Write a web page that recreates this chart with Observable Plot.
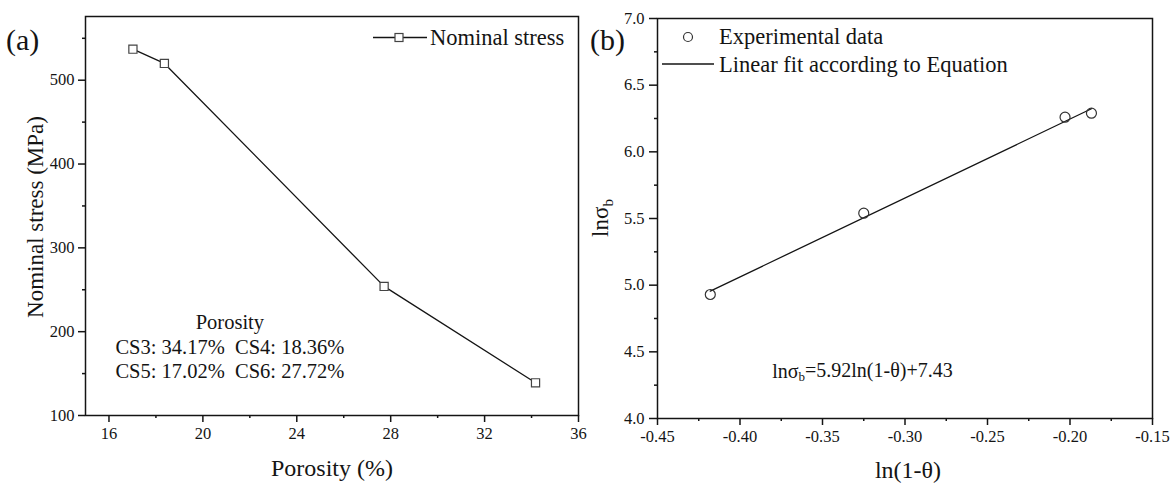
<!DOCTYPE html>
<html><head><meta charset="utf-8">
<script src="https://cdn.jsdelivr.net/npm/d3@7"></script>
<script src="https://cdn.jsdelivr.net/npm/@observablehq/plot@0.6"></script>
<style>
body{margin:0;background:#fff;}
#wrap{position:relative;width:1174px;height:485px;overflow:hidden;background:#fff;}
#wrap svg{position:absolute;top:0;font-family:'Liberation Serif','Times New Roman',serif !important;}
#wrap svg text{font-family:'Liberation Serif','Times New Roman',serif !important;}
</style></head><body><div id="wrap"></div>
<script>
// ---- Data (panel a) ----
const porosity = [17.02, 18.36, 27.72, 34.17];
const nominalStress = [537, 520, 254, 139];
const xTicksA = [16, 20, 24, 28, 32, 36];
const xMinorA = [18, 22, 26, 30, 34];
const yTicksA = [100, 200, 300, 400, 500];
const yMinorA = [150, 250, 350, 450, 550];
const porosityNote = ["Porosity", "CS3: 34.17%\u00a0\u00a0CS4: 18.36%", "CS5: 17.02%\u00a0\u00a0CS6: 27.72%"];

// ---- Data (panel b) ----
const lnOneMinusTheta = [-0.418, -0.325, -0.203, -0.187];
const lnSigmaB = [4.93, 5.54, 6.26, 6.29];
const fitSlope = 5.92, fitIntercept = 7.43;
const fitRange = [-0.418, -0.187];
const xTicksB = [-0.45, -0.40, -0.35, -0.30, -0.25, -0.20, -0.15];
const xMinorB = [-0.425, -0.375, -0.325, -0.275, -0.225, -0.175];
const yTicksB = [4.0, 4.5, 5.0, 5.5, 6.0, 6.5, 7.0];
const yMinorB = [4.25, 4.75, 5.25, 5.75, 6.25, 6.75];

const ink = "#141414";
const serif = "'Liberation Serif', 'Times New Roman', serif";
const tickFont = 16.5;
const wrap = document.getElementById("wrap");

// ---------- Panel (a) ----------
const dataA = porosity.map((p, i) => ({p, s: nominalStress[i]}));
const plotA = Plot.plot({
  width: 590, height: 485,
  marginLeft: 85, marginRight: 12, marginTop: 16, marginBottom: 70,
  style: {fontFamily: serif, color: ink, background: "white", overflow: "visible"},
  x: {domain: [15, 36]},
  y: {domain: [100, 576]},
  marks: [
    Plot.frame({stroke: ink, strokeWidth: 1.5}),
    Plot.axisX({ticks: xTicksA, tickSize: 7, tickPadding: 5, tickFormat: d => String(d), label: null, strokeWidth: 1.5, fontSize: tickFont}),
    Plot.axisX({ticks: xMinorA, tickSize: 3, tickFormat: () => "", label: null, strokeWidth: 1.5}),
    Plot.axisY({ticks: yTicksA, tickSize: 7, tickPadding: 4, tickFormat: d => String(d), label: null, strokeWidth: 1.5, fontSize: tickFont}),
    Plot.axisY({ticks: yMinorA, tickSize: 3, tickFormat: () => "", label: null, strokeWidth: 1.5}),
    Plot.line(dataA, {x: "p", y: "s", stroke: ink, strokeWidth: 1.3}),
    Plot.dot(dataA, {x: "p", y: "s", symbol: "square", r: 4.6, fill: "white", stroke: "#444", strokeWidth: 1.2}),
    Plot.text([porosityNote.join("\n")], {x: 21.15, y: 183, text: d => d, fontSize: 20.5, lineHeight: 1.2, textAnchor: "middle", lineAnchor: "middle", fill: ink})
  ]
});
plotA.style.left = "0px";
wrap.appendChild(plotA);

{
  const svg = d3.select(plotA);
  const g = svg.append("g").attr("text-anchor", "start").attr("fill", ink);
  g.append("text").attr("x", 6).attr("y", 50).style("font-size", "30px").text("(a)");
  g.append("text").attr("x", 332).attr("y", 476).attr("text-anchor", "middle").style("font-size", "24px").text("Porosity (%)");
  g.append("text").attr("transform", "translate(43,217) rotate(-90)").attr("text-anchor", "middle").style("font-size", "23px").text("Nominal stress (MPa)");
  // legend
  g.append("line").attr("x1", 373).attr("x2", 427).attr("y1", 37.5).attr("y2", 37.5).attr("stroke", ink).attr("stroke-width", 1.3);
  g.append("rect").attr("x", 395).attr("y", 33.5).attr("width", 8).attr("height", 8).attr("fill", "white").attr("stroke", "#444").attr("stroke-width", 1.2);
  g.append("text").attr("x", 430).attr("y", 45).style("font-size", "22.5px").text("Nominal stress");
}

// ---------- Panel (b) ----------
const dataB = lnOneMinusTheta.map((x, i) => ({x, y: lnSigmaB[i]}));
const fitData = fitRange.map(x => ({x, y: fitSlope * x + fitIntercept}));
const plotB = Plot.plot({
  width: 584, height: 485,
  marginLeft: 67, marginRight: 22, marginTop: 18, marginBottom: 67,
  style: {fontFamily: serif, color: ink, background: "white", overflow: "visible"},
  x: {domain: [-0.45, -0.15]},
  y: {domain: [4.0, 7.0]},
  marks: [
    Plot.frame({stroke: ink, strokeWidth: 1.5}),
    Plot.axisX({ticks: xTicksB, tickSize: 7, tickPadding: 5, tickFormat: d => d.toFixed(2), label: null, strokeWidth: 1.5, fontSize: tickFont}),
    Plot.axisX({ticks: xMinorB, tickSize: 3, tickFormat: () => "", label: null, strokeWidth: 1.5}),
    Plot.axisY({ticks: yTicksB, tickSize: 8, tickPadding: 5, tickFormat: d => d.toFixed(1), label: null, strokeWidth: 1.5, fontSize: tickFont}),
    Plot.axisY({ticks: yMinorB, tickSize: 3, tickFormat: () => "", label: null, strokeWidth: 1.5}),
    Plot.line(fitData, {x: "x", y: "y", stroke: ink, strokeWidth: 1.3}),
    Plot.dot(dataB, {x: "x", y: "y", symbol: "circle", r: 5, fill: "none", stroke: "#333", strokeWidth: 1.2})
  ]
});
plotB.style.left = "590px";
wrap.appendChild(plotB);

{
  const svg = d3.select(plotB);
  const sx = plotB.scale("x"), sy = plotB.scale("y");
  const g = svg.append("g").attr("text-anchor", "start").attr("fill", ink);
  g.append("text").attr("x", 0).attr("y", 50).style("font-size", "30px").text("(b)");
  g.append("text").attr("x", 318).attr("y", 478).attr("text-anchor", "middle").style("font-size", "24px").text("ln(1-\u03b8)");
  const yl = g.append("text").attr("transform", "translate(18,218) rotate(-90)").attr("text-anchor", "middle").style("font-size", "23px");
  yl.append("tspan").text("ln\u03c3");
  yl.append("tspan").style("font-size", "15px").attr("dy", "0.35em").text("b");
  // equation
  const eq = g.append("text").attr("x", sx.apply(-0.3255)).attr("y", sy.apply(4.345) + 6).attr("text-anchor", "middle").style("font-size", "20px");
  eq.append("tspan").text("ln\u03c3");
  eq.append("tspan").style("font-size", "13px").attr("dy", "0.2em").text("b");
  eq.append("tspan").attr("dy", "-0.2em").text("=5.92ln(1-\u03b8)+7.43");
  // legend
  g.append("circle").attr("cx", 98).attr("cy", 37).attr("r", 4.5).attr("fill", "none").attr("stroke", "#333").attr("stroke-width", 1.2);
  g.append("text").attr("x", 129).attr("y", 44).style("font-size", "22.5px").text("Experimental data");
  g.append("line").attr("x1", 72).attr("x2", 124).attr("y1", 64).attr("y2", 64).attr("stroke", ink).attr("stroke-width", 1.3);
  g.append("text").attr("x", 129).attr("y", 72).style("font-size", "22.5px").text("Linear fit according to Equation");
}
</script>
</body></html>
